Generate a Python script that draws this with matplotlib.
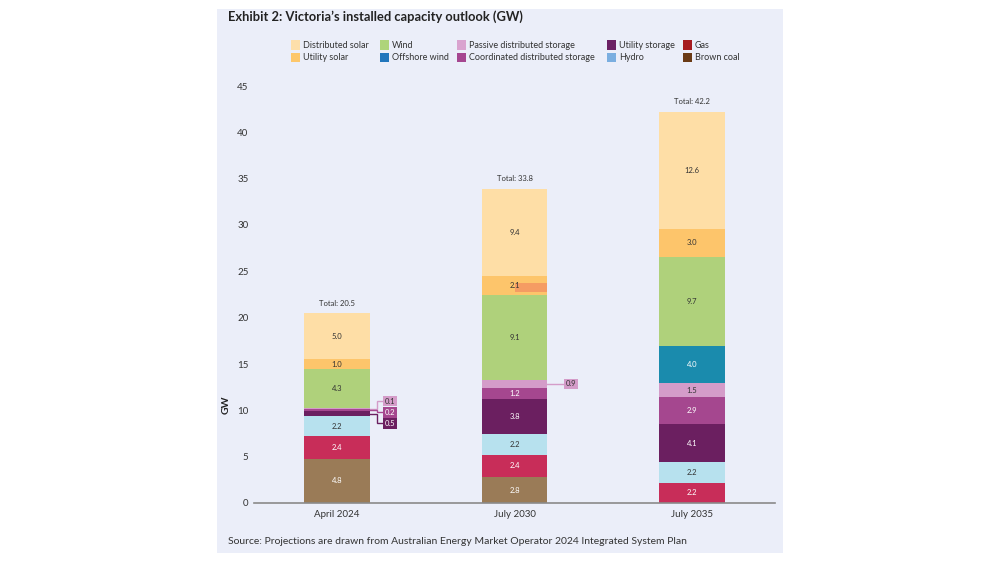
import matplotlib
matplotlib.use("Agg")
import matplotlib.pyplot as plt
from matplotlib.patches import Rectangle
import numpy as np

# ---------------- data ----------------
periods = ["April 2024", "July 2030", "July 2035"]
totals = [20.5, 33.8, 42.2]

# stack order bottom -> top
series_names = ["Brown coal", "Gas", "Hydro", "Utility storage",
                "Coordinated distributed storage", "Passive distributed storage",
                "Offshore wind", "Wind", "Utility solar", "Distributed solar"]
brown_coal = [4.8, 2.8, 0.0]
gas = [2.4, 2.4, 2.2]
hydro = [2.2, 2.2, 2.2]
utility_storage = [0.5, 3.8, 4.1]
coordinated_storage = [0.2, 1.2, 2.9]
passive_storage = [0.1, 0.9, 1.5]
offshore_wind = [0.0, 0.0, 4.0]
wind = [4.3, 9.1, 9.7]
utility_solar = [1.0, 2.1, 3.0]
distributed_solar = [5.0, 9.4, 12.6]
series_values = [brown_coal, gas, hydro, utility_storage, coordinated_storage,
                 passive_storage, offshore_wind, wind, utility_solar, distributed_solar]

# small orange overlay visible inside the 2030 utility-solar segment
overlay_bottom = [0.0, 22.8, 0.0]
overlay_height = [0.0, 0.9, 0.0]

legend_rows = [["Distributed solar", "Wind", "Passive distributed storage", "Utility storage", "Gas"],
               ["Utility solar", "Offshore wind", "Coordinated distributed storage", "Hydro", "Brown coal"]]

# ---------------- style ----------------
bar_colors = {
    "Brown coal": "#9A7B57", "Gas": "#C82D59", "Hydro": "#B7E1EE",
    "Utility storage": "#6B1F60", "Coordinated distributed storage": "#A5478F",
    "Passive distributed storage": "#D49CC9", "Offshore wind": "#1A8BAD",
    "Wind": "#AFD17B", "Utility solar": "#FDC56B", "Distributed solar": "#FEDEA6",
}
legend_colors = {
    "Distributed solar": "#FDDFAA", "Utility solar": "#FDC76B", "Wind": "#AED47A",
    "Offshore wind": "#2176BC", "Passive distributed storage": "#D9A3CF",
    "Coordinated distributed storage": "#A54690", "Utility storage": "#6B2164",
    "Hydro": "#7AAEE0", "Gas": "#A61B1F", "Brown coal": "#6A3A15",
}
white_text = {"Brown coal", "Gas", "Utility storage",
              "Coordinated distributed storage", "Offshore wind"}

FONT = ["Lato", "DejaVu Sans"]
plt.rcParams["font.family"] = FONT
TXT = "#333333"
PANEL = "#EBEEF9"

fig = plt.figure(figsize=(10, 5.63), dpi=100)
fig.patch.set_facecolor("white")
# panel background
fig.add_artist(Rectangle((0.217, 1 - 553 / 563), 0.566, (553 - 9) / 563,
                         transform=fig.transFigure, facecolor=PANEL, edgecolor="none", zorder=0))

ax = fig.add_axes([0.254, (563 - 503) / 563, 0.521, (503 - 86) / 563])
ax.set_facecolor("none")

x = np.arange(len(periods))
width = 0.37
bottom = np.zeros(len(periods))
seg_info = []  # (name, i, bottom, value)
for name, vals in zip(series_names, series_values):
    vals = np.array(vals)
    ax.bar(x, vals, width, bottom=bottom, color=bar_colors[name], edgecolor="none",
           linewidth=0, zorder=2)
    for i, v in enumerate(vals):
        if v > 0:
            seg_info.append((name, i, bottom[i], v))
    bottom = bottom + vals

# overlay
ax.bar(x + width / 4, overlay_height, width / 2, bottom=overlay_bottom,
       color="#F59C63", edgecolor="none", zorder=3)

# in-bar labels
for name, i, b, v in seg_info:
    if v >= 1.0:
        ax.text(x[i], b + v / 2, f"{v:.1f}", ha="center", va="center", fontsize=5.5,
                color="white" if name in white_text else TXT, zorder=4)

# callouts for small segments
for i in range(len(periods)):
    small = [(n, b, v) for (n, j, b, v) in seg_info if j == i and v < 1.0]
    if not small:
        continue
    small.sort(key=lambda s: -s[1])  # top first
    mid_group = (small[0][1] + small[0][2] + small[-1][1]) / 2
    k = len(small)
    spacing = 1.2
    edge = x[i] + width / 2
    elbow = x[i] + 0.225
    box_x = x[i] + 0.27
    for idx, (n, b, v) in enumerate(small):
        ybox = mid_group + (k - 1) / 2 * spacing - idx * spacing if k > 1 else b + v / 2
        yseg = b + v / 2
        col = bar_colors[n]
        if k > 1:
            ax.plot([edge, elbow, elbow, box_x], [yseg, yseg, ybox, ybox], color=col, lw=1.0,
                    solid_joinstyle="miter", zorder=1, clip_on=False)
        else:
            ax.plot([edge, box_x + 0.02], [yseg, ybox], color=col, lw=1.0, zorder=1, clip_on=False)
        ax.text(box_x + (0.02 if k == 1 else 0), ybox, f"{v:.1f}", ha="left", va="center",
                fontsize=5.5, color="white" if n in white_text else TXT, zorder=4,
                bbox=dict(boxstyle="square,pad=0.25", fc=col, ec="none"), clip_on=False)

# totals
for i, t in enumerate(totals):
    ax.text(x[i], bottom[i] + 0.7, f"Total: {t:.1f}", ha="center", va="bottom",
            fontsize=5.5, color=TXT)

ax.set_xlim(-0.468, 2.468)
ax.set_ylim(0, 45)
ax.set_yticks(np.arange(0, 46, 5))
ax.set_xticks(x)
ax.set_xticklabels(periods)
ax.tick_params(axis="both", length=0, labelsize=7, colors=TXT)
ax.tick_params(axis="x", pad=5)
ax.tick_params(axis="y", pad=4)
for s in ["top", "right", "left"]:
    ax.spines[s].set_visible(False)
ax.spines["bottom"].set_color("#8A8A8A")
ax.spines["bottom"].set_linewidth(1.2)
ax.set_ylabel("GW", fontsize=7.5, fontweight="bold", color="#222222")
ax.yaxis.set_label_coords(-0.044, 0.235)

# title & source
fig.text(0.228, 1 - 17 / 563, "Exhibit 2: Victoria\u2019s installed capacity outlook (GW)",
         fontsize=9.3, fontweight="bold", color="#222222", ha="left", va="center")
fig.text(0.228, 1 - 542 / 563,
         "Source: Projections are drawn from Australian Energy Market Operator 2024 Integrated System Plan",
         fontsize=7.5, color=TXT, ha="left", va="center")

# legend (manual)
col_x = [291, 380, 457, 607, 683]
row_y = [45, 58]
for r, row in enumerate(legend_rows):
    for c, name in enumerate(row):
        px = col_x[c] / 1000
        py = 1 - row_y[r] / 563
        fig.add_artist(Rectangle((px, py - 4.5 / 563), 8.5 / 1000, 9 / 563,
                                 transform=fig.transFigure, facecolor=legend_colors[name],
                                 edgecolor="none"))
        fig.text(px + 12 / 1000, py, name, fontsize=6.5, color=TXT, ha="left", va="center")

fig.savefig("out.png", dpi=100, facecolor="white")
